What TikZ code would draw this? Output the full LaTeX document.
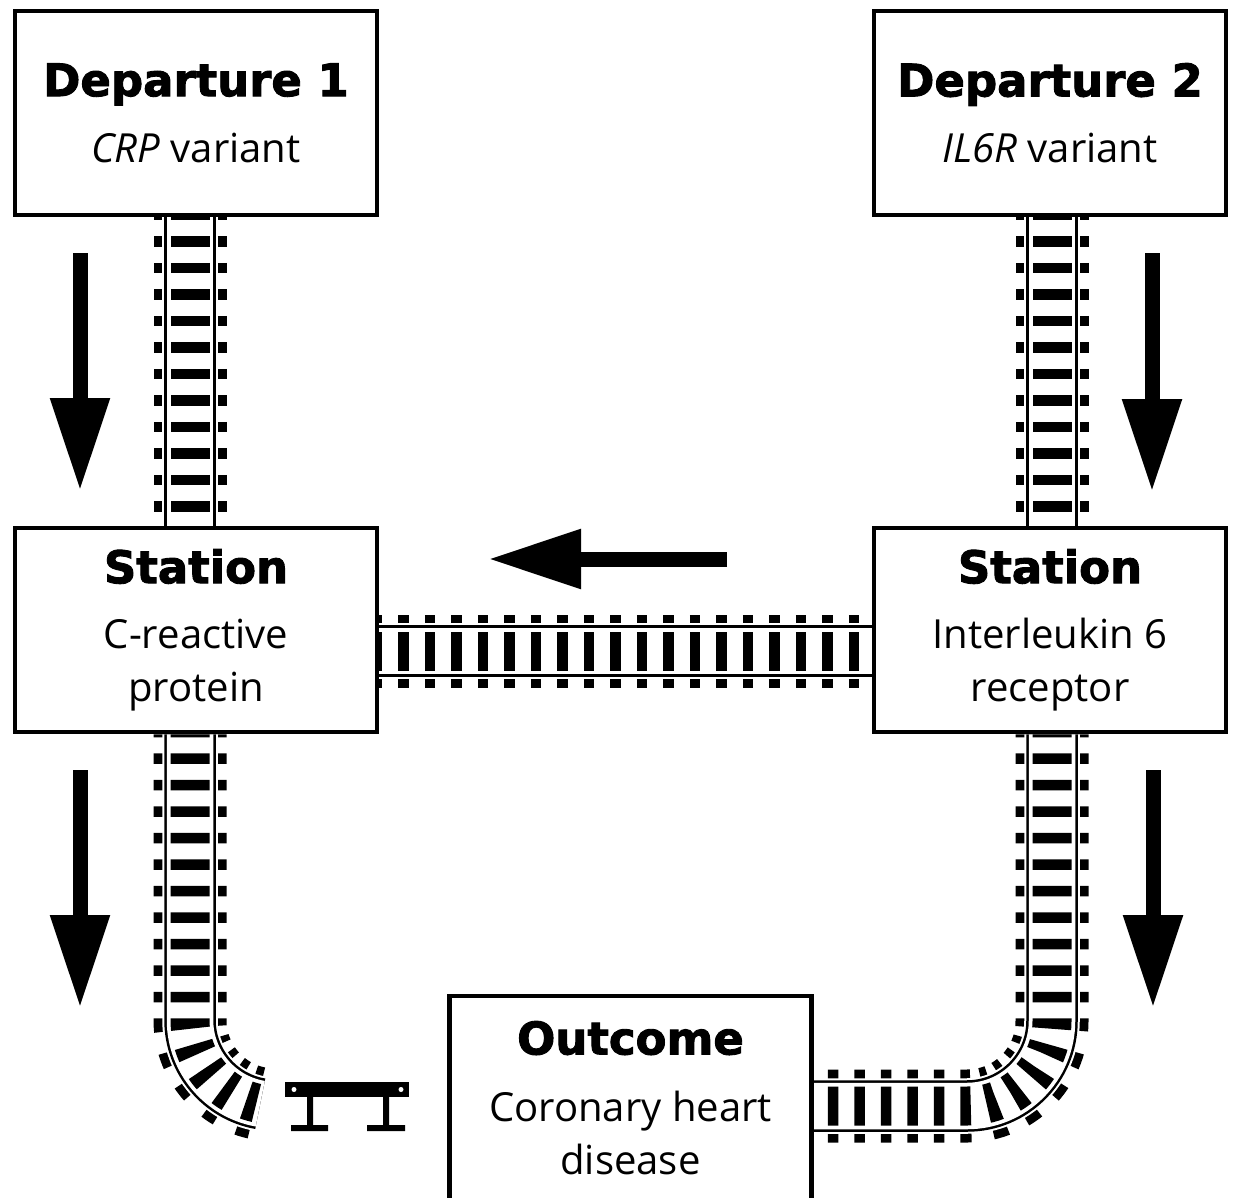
\documentclass[tikz,border=0pt]{standalone}
\usepackage{fontspec}
\setmainfont{Open Sans}
\newfontfamily\headfont{DejaVu Sans}[BoldFeatures={FakeBold=2}]
\usetikzlibrary{arrows.meta}

\pgfdeclarelayer{rails}
\pgfsetlayers{rails,main}

\newcommand{\boxtitle}[1]{{\headfont\bfseries\fontsize{25.6pt}{30pt}\selectfont #1}}

\tikzset{
  box/.style={draw, line width=0.9mm, fill=white, inner sep=0pt,
    minimum width=72.4mm, minimum height=40.8mm, align=center,
    font=\fontsize{22.8pt}{30.2pt}\selectfont},
  sleepers/.style={dash pattern=on 2.1mm off 3.2mm, dash phase=1.5mm},
  % sleepers, then rails with a white gap on each side
  track/.style={
    postaction={draw, line width=14.6mm, sleepers},
    postaction={draw, white, line width=11.1mm},
    postaction={draw, line width=10.3mm},
    postaction={draw, white, line width=9.3mm},
    postaction={draw, line width=7.8mm, sleepers}},
  bigarrow/.style={line width=3mm, -{Triangle[length=18.6mm, width=11.2mm]}}
}

\begin{document}
\begin{tikzpicture}[x=0.2mm, y=-0.2mm]
  \useasboundingbox (0,0) rectangle (1237,1198);

  % stations
  \node[box] (dep1) at (196,113) {\boxtitle{Departure 1}\\[2.6mm]\emph{CRP} variant};
  \node[box, minimum width=70.4mm] (dep2) at (1050,113) {\boxtitle{Departure 2}\\[2.6mm]\emph{IL6R} variant};
  \node[box] (stL) at (196,630) {\boxtitle{Station}\\[2.4mm]C-reactive\\protein};
  \node[box, minimum width=70.4mm] (stR) at (1050,630) {\boxtitle{Station}\\[2.4mm]Interleukin 6\\receptor};
  \node[box] (outcome) at (630.5,1098) {\boxtitle{Outcome}\\[2.8mm]Coronary heart\\disease};

  % where the lines run
  \coordinate (railL) at (190,0);
  \coordinate (railR) at (1052,0);
  \coordinate (railH) at (0,651);
  \coordinate (bendL) at (190,1020);
  \coordinate (outR) at ([yshift=-1.6mm]outcome.east);

  \begin{pgfonlayer}{rails}
    \path[track] (railL |- dep1.south) -- (railL |- stL.north);
    \path[track] (railR |- dep2.south) -- (railR |- stR.north);
    \path[track] (stL.east |- railH) -- (stR.west |- railH);
    \path[track] (railL |- stL.south) -- (bendL)
      arc[start angle=180, end angle=100, radius=85];
    \path[track, rounded corners=17mm] (railR |- stR.south) -- (railR |- outR) -- (outR);
  \end{pgfonlayer}

  % buffer stop
  \fill (285,1082) rectangle (409,1097);
  \fill[white] (294,1089.5) circle[radius=0.5mm] (401,1089.5) circle[radius=0.5mm];
  \fill (307,1097) rectangle (313,1128) (383,1097) rectangle (389,1128);
  \fill (291,1125) rectangle (328,1131) (367,1125) rectangle (405,1131);

  % direction of travel
  \draw[bigarrow] (80,253) -- (80,491);
  \draw[bigarrow] (1152,253) -- (1152,492);
  \draw[bigarrow] (80,770) -- (80,1008);
  \draw[bigarrow] (1153,770) -- (1153,1008);
  \draw[bigarrow] (727,559) -- (488,559);
\end{tikzpicture}
\end{document}
